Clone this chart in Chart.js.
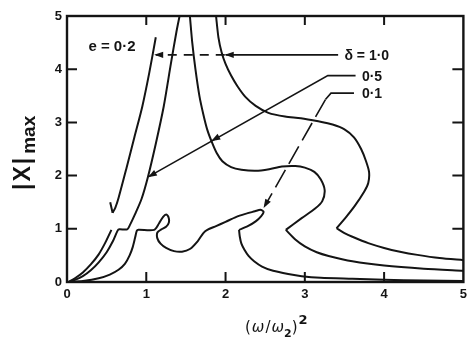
<!DOCTYPE html>
<html lang="en">
<head>
<meta charset="UTF-8">
<script src="https://cdn.jsdelivr.net/npm/chart.js"></script>
<style>
body { margin: 0; background: #fff; }
.wrap { width: 472px; height: 342px; position: relative; }
</style>
</head>
<body>
<div class="wrap"><canvas id="resp"></canvas></div>
<script>
const xTicks = [0, 1, 2, 3, 4, 5];
const yTicks = [0, 1, 2, 3, 4, 5];

// delta = 1.0 : lower branch, jump hook, resonance branches and tail
const d10Lower = [[0.02, 0], [0.1, 0.07], [0.2, 0.18], [0.3, 0.33], [0.4, 0.52], [0.48, 0.73], [0.56, 0.98]];
const d10Hook = [[0.545, 1.5], [0.575, 1.3]];
const d10Upper = [[0.575, 1.3], [0.61, 1.4], [0.65, 1.58], [0.75, 2.14], [0.85, 2.72], [0.95, 3.3], [1.04, 3.95], [1.12, 4.6]];
const d10Right = [[1.88, 5.0], [1.91, 4.6], [1.95, 4.32], [2.0, 4.1], [2.07, 3.88], [2.15, 3.68], [2.25, 3.48], [2.38, 3.31],
  [2.54, 3.18], [2.75, 3.11], [2.95, 3.08], [3.17, 3.02], [3.35, 2.96], [3.5, 2.87], [3.62, 2.72], [3.71, 2.5],
  [3.77, 2.28], [3.81, 2.07], [3.8, 1.86], [3.75, 1.7], [3.63, 1.43], [3.52, 1.22], [3.4, 1.01]];
const d10Tail = [[3.4, 1.01], [3.5, 0.92], [3.6, 0.85], [3.8, 0.73], [4.0, 0.64], [4.2, 0.57], [4.42, 0.51], [4.7, 0.45], [5.0, 0.41]];

// delta = 0.5
const d05Left = [[0.02, 0], [0.1, 0.04], [0.2, 0.11], [0.3, 0.22], [0.4, 0.37], [0.5, 0.56], [0.58, 0.77], [0.64, 0.97],
  [0.66, 0.99], [0.76, 0.99], [0.79, 1.06], [0.86, 1.28], [0.94, 1.56], [1.02, 1.97], [1.12, 2.6], [1.22, 3.3],
  [1.31, 4.1], [1.38, 4.7], [1.42, 5.0]];
const d05Right = [[1.55, 5.0], [1.58, 4.5], [1.62, 4.0], [1.67, 3.5], [1.72, 3.15], [1.77, 2.86], [1.83, 2.62],
  [1.89, 2.42], [1.96, 2.27], [2.07, 2.16], [2.2, 2.11], [2.38, 2.09], [2.55, 2.12], [2.71, 2.17], [2.88, 2.18],
  [3.0, 2.15], [3.12, 2.07], [3.2, 1.93], [3.25, 1.73], [3.22, 1.52], [3.13, 1.38], [2.96, 1.2], [2.76, 0.98]];
const d05Tail = [[2.76, 0.98], [2.88, 0.8], [3.0, 0.67], [3.15, 0.56], [3.3, 0.49], [3.6, 0.39], [4.0, 0.31], [4.5, 0.25], [5.0, 0.21]];

// delta = 0.1
const d01Left = [[0.02, 0], [0.2, 0.02], [0.4, 0.07], [0.54, 0.14], [0.65, 0.23], [0.73, 0.34], [0.79, 0.5], [0.83, 0.66],
  [0.86, 0.84], [0.88, 0.96], [0.9, 0.98], [1.1, 0.98], [1.16, 1.1], [1.21, 1.22], [1.25, 1.27], [1.28, 1.22],
  [1.285, 1.12], [1.25, 1.04], [1.19, 0.99], [1.14, 0.93], [1.14, 0.82], [1.18, 0.72], [1.25, 0.64], [1.35, 0.58],
  [1.45, 0.57], [1.55, 0.62], [1.65, 0.77], [1.72, 0.92], [1.77, 0.98], [1.88, 1.05], [2.0, 1.13], [2.13, 1.22],
  [2.25, 1.28], [2.37, 1.33], [2.44, 1.36], [2.48, 1.32], [2.45, 1.24], [2.38, 1.14], [2.28, 1.05], [2.17, 0.98]];
const d01Tail = [[2.17, 0.98], [2.18, 0.85], [2.2, 0.72], [2.24, 0.6], [2.29, 0.49], [2.36, 0.39], [2.46, 0.29], [2.6, 0.21],
  [2.79, 0.15], [2.96, 0.11], [3.2, 0.08], [3.6, 0.06], [4.0, 0.04], [4.5, 0.03], [5.0, 0.02]];

const curves = [d10Lower, d10Hook, d10Upper, d10Right, d10Tail, d05Left, d05Right, d05Tail, d01Left, d01Tail];

const ink = '#141414';

// arrow from a point to the curve it names
function arrowHead(ctx, tx, ty, fx, fy) {
  const ang = Math.atan2(ty - fy, tx - fx);
  const len = 9, half = 3.2;
  ctx.beginPath();
  ctx.moveTo(tx, ty);
  ctx.lineTo(tx - len * Math.cos(ang) + half * Math.sin(ang), ty - len * Math.sin(ang) - half * Math.cos(ang));
  ctx.lineTo(tx - len * Math.cos(ang) - half * Math.sin(ang), ty - len * Math.sin(ang) + half * Math.cos(ang));
  ctx.closePath();
  ctx.fill();
}

const decor = {
  id: 'decor',
  afterDraw(chart) {
    const { ctx, chartArea: a, scales: { x, y } } = chart;
    const X = v => x.getPixelForValue(v), Y = v => y.getPixelForValue(v);
    ctx.save();
    ctx.strokeStyle = ink;
    ctx.fillStyle = ink;

    // frame with inward ticks
    ctx.lineWidth = 2.4;
    ctx.strokeRect(a.left, a.top, a.right - a.left, a.bottom - a.top);
    ctx.lineWidth = 2;
    ctx.beginPath();
    xTicks.slice(1, -1).forEach(v => {
      ctx.moveTo(X(v), a.bottom); ctx.lineTo(X(v), a.bottom - 10);
      ctx.moveTo(X(v), a.top); ctx.lineTo(X(v), a.top + 9);
    });
    yTicks.slice(1, -1).forEach(v => {
      ctx.moveTo(a.left, Y(v)); ctx.lineTo(a.left + 10, Y(v));
      ctx.moveTo(a.right, Y(v)); ctx.lineTo(a.right - 11, Y(v));
    });
    ctx.stroke();

    // delta = 1.0 leader: solid to the right branch, dashed on to the left one
    ctx.lineWidth = 1.6;
    ctx.beginPath();
    ctx.moveTo(X(3.42), Y(4.27)); ctx.lineTo(X(2.0), Y(4.27));
    ctx.stroke();
    arrowHead(ctx, X(1.99), Y(4.27), X(2.3), Y(4.27));
    ctx.setLineDash([9, 7]);
    ctx.beginPath();
    ctx.moveTo(X(1.99), Y(4.27)); ctx.lineTo(X(1.12), Y(4.27));
    ctx.stroke();
    ctx.setLineDash([]);
    arrowHead(ctx, X(1.1), Y(4.27), X(1.4), Y(4.27));

    // delta = 0.5 leader
    ctx.beginPath();
    ctx.moveTo(X(3.64), Y(3.88)); ctx.lineTo(X(3.29), Y(3.88)); ctx.lineTo(X(1.03), Y(1.98));
    ctx.stroke();
    arrowHead(ctx, X(1.82), Y(2.65), X(3.29), Y(3.88));
    arrowHead(ctx, X(1.02), Y(1.97), X(3.29), Y(3.88));

    // delta = 0.1 leader
    ctx.beginPath();
    ctx.moveTo(X(3.62), Y(3.55)); ctx.lineTo(X(3.33), Y(3.55)); ctx.lineTo(X(3.26), Y(3.43));
    ctx.stroke();
    ctx.setLineDash([20, 7]);
    ctx.beginPath();
    ctx.moveTo(X(3.26), Y(3.43)); ctx.lineTo(X(2.5), Y(1.44));
    ctx.stroke();
    ctx.setLineDash([]);
    arrowHead(ctx, X(2.48), Y(1.39), X(3.26), Y(3.43));

    // labels
    ctx.textBaseline = 'middle';
    ctx.textAlign = 'left';
    ctx.font = 'bold 14px "Liberation Sans", Arial, sans-serif';
    ctx.fillText('\u03b4 = 1\u00b70', X(3.5), Y(4.25));
    ctx.fillText('0\u00b75', X(3.72), Y(3.86));
    ctx.fillText('0\u00b71', X(3.72), Y(3.53));
    ctx.font = 'bold 15px "Liberation Sans", Arial, sans-serif';
    ctx.fillText('e = 0\u00b72', X(0.27), Y(4.42));

    // y axis title |X|max, read bottom to top
    ctx.save();
    ctx.translate(30, 190);
    ctx.rotate(-Math.PI / 2);
    ctx.textBaseline = 'alphabetic';
    ctx.font = 'bold 23px "Liberation Sans", Arial, sans-serif';
    let u = 0;
    ['|', 'X', '|'].forEach(c => { ctx.fillText(c, u, 0); u += ctx.measureText(c).width + 2; });
    ctx.font = 'bold 19px "Liberation Sans", Arial, sans-serif';
    ctx.fillText('max', u + 2, 5);
    ctx.restore();

    // x axis title (w/w2)^2
    ctx.textBaseline = 'alphabetic';
    let px = 245;
    const base = 332;
    const put = (t, font, dy, gap) => {
      ctx.font = font;
      ctx.fillText(t, px, base + dy);
      px += ctx.measureText(t).width + gap;
    };
    const main = '15px "DejaVu Sans", sans-serif';
    put('(', main, 0, 1);
    put('\u03c9', 'italic ' + main, 0, 1);
    put('/', main, 0, 1);
    put('\u03c9', 'italic ' + main, 0, 0);
    put('2', 'bold 11px "DejaVu Sans", sans-serif', 5, 0);
    put(')', main, 0, 1);
    put('2', 'bold 13px "DejaVu Sans", sans-serif', -8, 0);

    ctx.restore();
  }
};

new Chart(document.getElementById('resp'), {
  type: 'scatter',
  data: {
    datasets: curves.map(c => ({
      data: c.map(p => ({ x: p[0], y: p[1] })),
      showLine: true,
      borderColor: ink,
      borderWidth: 2,
      pointRadius: 0,
      tension: 0.25
    }))
  },
  options: {
    responsive: true,
    maintainAspectRatio: false,
    animation: false,
    events: [],
    layout: { padding: { left: 0, top: 16, right: 6, bottom: 0 } },
    plugins: { legend: { display: false }, tooltip: { enabled: false } },
    scales: {
      x: {
        type: 'linear', min: 0, max: 5,
        afterBuildTicks: s => { s.ticks = xTicks.map(v => ({ value: v })); },
        afterFit: s => { s.height = 60; },
        grid: { display: false, drawTicks: false },
        border: { display: false },
        ticks: { color: ink, padding: 5, font: { family: '"Liberation Sans", Arial, sans-serif', size: 13, weight: 'bold' } }
      },
      y: {
        type: 'linear', min: 0, max: 5,
        afterBuildTicks: s => { s.ticks = yTicks.map(v => ({ value: v })); },
        afterFit: s => { s.width = 67; },
        grid: { display: false, drawTicks: false },
        border: { display: false },
        ticks: { color: ink, padding: 5, font: { family: '"Liberation Sans", Arial, sans-serif', size: 13, weight: 'bold' } }
      }
    }
  },
  plugins: [decor]
});
</script>
</body>
</html>
